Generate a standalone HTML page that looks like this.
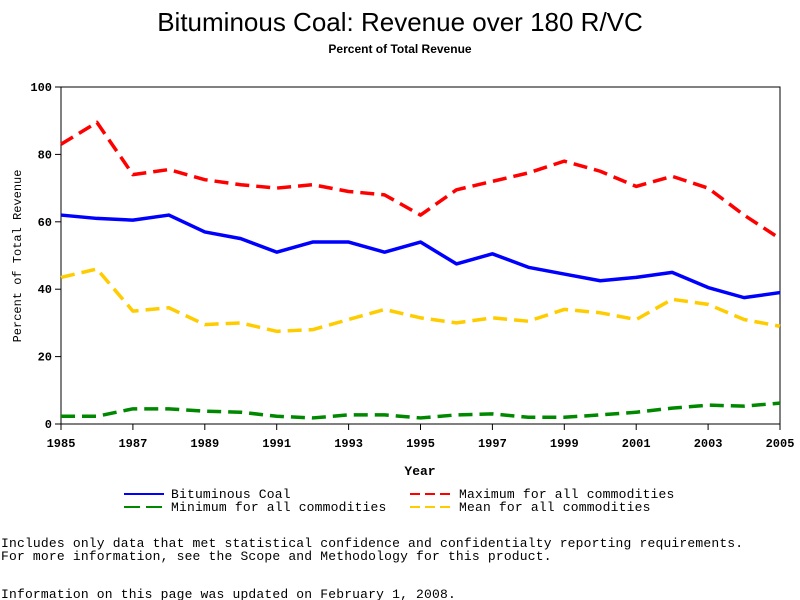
<!DOCTYPE html>
<html><head><meta charset="utf-8"><style>
body{margin:0;background:#fff;width:800px;height:600px;overflow:hidden}
svg{display:block}
.m{font-family:"Liberation Mono",monospace}
.s{font-family:"Liberation Sans",sans-serif}
.n{letter-spacing:0.18px}
</style></head><body>
<svg id="c" width="800" height="600">
<text class="s" x="400" y="31" font-size="26" text-anchor="middle">Bituminous Coal: Revenue over 180 R/VC</text>
<text class="s" x="400" y="53" font-size="12" font-weight="bold" text-anchor="middle">Percent of Total Revenue</text>
<rect x="61" y="87" width="719" height="337" fill="none" stroke="#000" stroke-width="1"/>
<g id="ax"></g><g id="series"></g>
<text class="m" x="420" y="475" font-size="13" font-weight="bold" text-anchor="middle">Year</text>
<text class="m" transform="translate(21,256) rotate(-90)" font-size="12" text-anchor="middle">Percent of Total Revenue</text>
<g class="m n" font-size="13">
<g><line x1="124" y1="494" x2="164" y2="494" stroke="#00f" stroke-width="2"/><text x="171" y="498">Bituminous Coal</text></g>
<g><line x1="410" y1="494" x2="452" y2="494" stroke="#f00" stroke-width="2" stroke-dasharray="10,5"/><text x="459" y="498">Maximum for all commodities</text></g>
<g><line x1="124" y1="507" x2="164" y2="507" stroke="#080" stroke-width="2" stroke-dasharray="16,6"/><text x="171" y="511">Minimum for all commodities</text></g>
<g><line x1="410" y1="507" x2="452" y2="507" stroke="#fc0" stroke-width="2" stroke-dasharray="10,5"/><text x="459" y="511">Mean for all commodities</text></g>
</g>
<text class="m n" x="1" y="547" font-size="13">Includes only data that met statistical confidence and confidentialty reporting requirements.</text>
<text class="m n" x="1" y="560" font-size="13">For more information, see the Scope and Methodology for this product.</text>
<text class="m n" x="1" y="598" font-size="13">Information on this page was updated on February 1, 2008.</text>
</svg>
<script>
const years=[1985,1986,1987,1988,1989,1990,1991,1992,1993,1994,1995,1996,1997,1998,1999,2000,2001,2002,2003,2004,2005];
const xTicks=[1985,1987,1989,1991,1993,1995,1997,1999,2001,2003,2005];
const yTicks=[0,20,40,60,80,100];
const bituminous=[62,61,60.5,62,57,55,51,54,54,51,54,47.5,50.5,46.5,44.5,42.5,43.5,45,40.5,37.5,39];
const maximum=[83,89.5,74,75.5,72.5,71,70,71,69,68,62,69.5,72,74.5,78,75,70.5,73.5,70,62,55];
const mean=[43.5,46,33.5,34.5,29.5,30,27.5,28,31,34,31.5,30,31.5,30.5,34,33,31,37,35.5,31,29];
const minimum=[2.3,2.3,4.5,4.5,3.8,3.5,2.3,1.8,2.7,2.7,1.8,2.7,3,2,2,2.7,3.5,4.7,5.6,5.3,6.2];
const NS="http://www.w3.org/2000/svg";
const X=v=>61+(v-1985)/20*719, Y=v=>424-v/100*337;
const ax=document.getElementById('ax');
function mk(t,a,p){const e=document.createElementNS(NS,t);for(const k in a)e.setAttribute(k,a[k]);p.appendChild(e);return e;}
xTicks.forEach(v=>{
  const l=mk('line',{x1:X(v),x2:X(v),y1:424,y2:430,stroke:'#000'},ax);
  
  
  const t=mk('text',{x:X(v),y:447,'font-size':12,'font-weight':'bold','text-anchor':'middle',class:'m'},ax);t.textContent=v;
  
  
});
yTicks.forEach(v=>{
  const l=mk('line',{x1:55,x2:61,y1:Y(v),y2:Y(v),stroke:'#000'},ax);
  
  
  const t=mk('text',{x:52,y:Y(v)+4,'font-size':12,'font-weight':'bold','text-anchor':'end',class:'m'},ax);t.textContent=v;
  
  
});
const sg=document.getElementById('series');
function line(vals,color,dash,name){
  const p=mk('polyline',{points:vals.map((v,i)=>X(years[i])+','+Y(v)).join(' '),fill:'none',stroke:color,'stroke-width':3.5,'stroke-linejoin':'round'},sg);
  if(dash)p.setAttribute('stroke-dasharray',dash);
  
  
}
line(maximum,'#f00','14,7','series-maximum');
line(mean,'#fc0','14,7','series-mean');
line(minimum,'#080','14,7','series-minimum');
line(bituminous,'#00f',null,'series-bituminous-coal');
</script>
</body></html>
